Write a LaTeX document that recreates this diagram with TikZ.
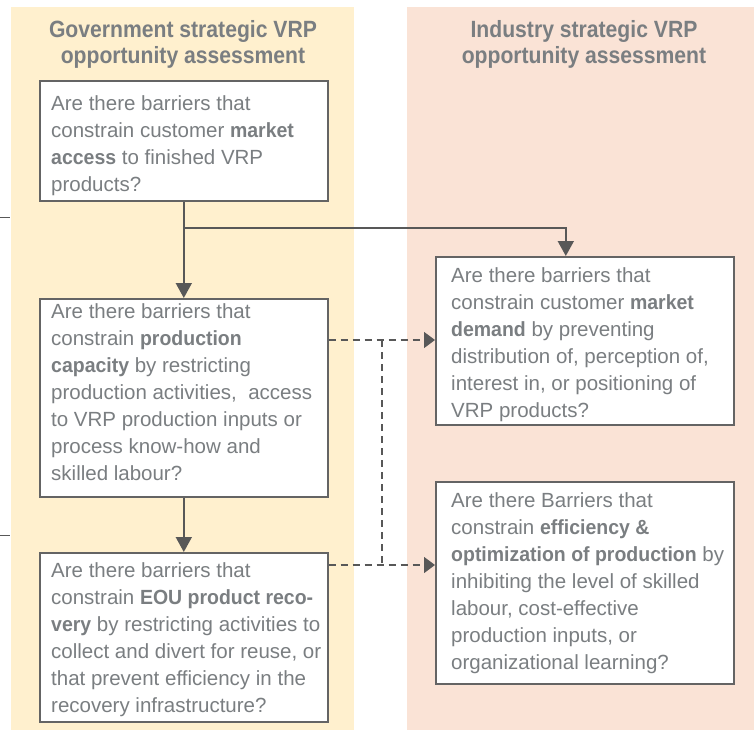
\documentclass[tikz,border=0pt]{standalone}
\usepackage{fontspec}
\setmainfont{Liberation Sans}[BoldFeatures={FakeStretch=0.95}]
\newfontfamily\headfont{Liberation Sans}[FakeStretch=0.9]
\usetikzlibrary{arrows.meta}

\definecolor{govfill}{RGB}{255,240,206}
\definecolor{indfill}{RGB}{250,227,214}
\definecolor{txtgray}{RGB}{122,126,129}
\definecolor{linegray}{RGB}{88,88,88}
\definecolor{boxgray}{RGB}{100,100,100}

\tikzset{
  panel/.style={fill=#1, draw=none},
  qbox/.style={draw=boxgray, line width=1.6pt, fill=white, inner sep=0pt, anchor=north west},
  qtext/.style={inner sep=0pt, anchor=north west, align=left, text=txtgray,
    font=\fontsize{20.5}{27}\selectfont},
  headtext/.style={inner sep=0pt, anchor=north, align=center, text=txtgray,
    font=\headfont\bfseries\fontsize{23.5}{26}\selectfont},
  flow/.style={draw=linegray, line width=1.8pt, -{Triangle[length=15pt, width=16pt]}},
  linkdash/.style={draw=linegray, line width=1.4pt, dash pattern=on 7pt off 5pt},
  linkarrow/.style={linkdash, -{Triangle[length=11pt, width=16pt]}},
  stub/.style={draw=linegray, line width=1pt}
}

\begin{document}
\begin{tikzpicture}[x=1pt, y=-1pt]
\useasboundingbox (0,0) rectangle (754,730);

% column backgrounds
\fill[panel=govfill] (11,7) rectangle (354,730);
\fill[panel=indfill] (407,7) rectangle (754,730);

% column headings
\node[headtext] (hgov) at (183,19) {\rule{0pt}{18pt}Government strategic VRP\\opportunity assessment};
\node[headtext] (hind) at (584,19) {\rule{0pt}{18pt}Industry strategic VRP\\opportunity assessment};

% question boxes
\node[qbox, minimum width=288pt, minimum height=120pt] (b1) at (39,80) {};
\node[qbox, minimum width=288pt, minimum height=198pt] (b2) at (39,298) {};
\node[qbox, minimum width=288pt, minimum height=169pt] (b5) at (39,552) {};
\node[qbox, minimum width=298pt, minimum height=168pt] (b3) at (435,256) {};
\node[qbox, minimum width=298pt, minimum height=202pt] (b4) at (435,481) {};

% box texts
\node[qtext] (t1) at (51,94) {\rule{0pt}{16pt}Are there barriers that\\
constrain customer \textbf{market}\\
\textbf{access} to finished VRP\\
products?};
\node[qtext] (t2) at (51,302) {\rule{0pt}{16pt}Are there barriers that\\
constrain \textbf{production}\\
\textbf{capacity} by restricting\\
production activities,\ \ access\\
to VRP production inputs or\\
process know-how and\\
skilled labour?};
\node[qtext] (t3) at (451,266) {\rule{0pt}{16pt}Are there barriers that\\
constrain customer \textbf{market}\\
\textbf{demand} by preventing\\
distribution of, perception of,\\
interest in, or positioning of\\
VRP products?};
\node[qtext] (t4) at (451,491) {\rule{0pt}{16pt}Are there Barriers that\\
constrain \textbf{efficiency \&}\\
\textbf{optimization of production} by\\
inhibiting the level of skilled\\
labour, cost-effective\\
production inputs, or\\
organizational learning?};
\node[qtext] (t5) at (51,561) {\rule{0pt}{16pt}Are there barriers that\\
constrain \textbf{EOU product reco-}\\
\textbf{very} by restricting activities to\\
collect and divert for reuse, or\\
that prevent efficiency in the\\
recovery infrastructure?};

% junction points
\coordinate (j1) at (183,228);
\coordinate (d1) at (382,340);
\coordinate (d2) at (382,565);
\coordinate (s1a) at (0,217);
\coordinate (s1b) at (10,217);
\coordinate (s2a) at (0,535);
\coordinate (s2b) at (10,535);

% solid flow
\draw[flow] (b1.south) -- (b2.north);
\draw[flow] (j1) -| ([xshift=-19pt]b3.north);
\draw[flow] (b2.south) -- (b5.north);

% dashed links
\draw[linkarrow] (b2.east |- d1) -- (b3.west |- d1);
\draw[linkdash] (d1) -- (d2);
\draw[linkarrow] (b5.east |- d2) -- (b4.west |- d2);

% incoming stubs at the left edge
\draw[stub] (s1a) -- (s1b);
\draw[stub] (s2a) -- (s2b);
\end{tikzpicture}
\end{document}
